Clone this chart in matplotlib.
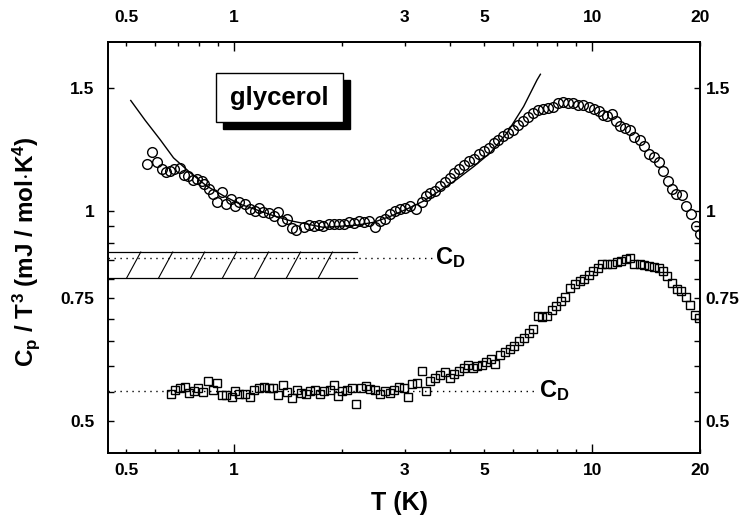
import numpy as np
import matplotlib
matplotlib.use("Agg")
import matplotlib.pyplot as plt
from matplotlib.ticker import FixedLocator, FuncFormatter, NullFormatter
from matplotlib.patches import Rectangle

plt.rcParams["font.family"] = ["Liberation Sans", "DejaVu Sans"]
plt.rcParams["font.weight"] = "bold"
plt.rcParams["mathtext.fontset"] = "custom"
plt.rcParams["mathtext.rm"] = "Liberation Sans:bold"
plt.rcParams["mathtext.bf"] = "Liberation Sans:bold"
plt.rcParams["mathtext.it"] = "Liberation Sans:bold"

# glycerol, circles (upper curve)
circ_T = [0.571, 0.590, 0.611, 0.629, 0.647, 0.664, 0.681, 0.705, 0.726, 0.746,
          0.768, 0.791, 0.814, 0.827, 0.849, 0.873, 0.896, 0.925, 0.951, 0.981,
          1.008, 1.036, 1.075, 1.110, 1.146, 1.178, 1.209, 1.249, 1.290, 1.323,
          1.361, 1.406, 1.452, 1.493, 1.564, 1.615, 1.668, 1.722, 1.778, 1.837,
          1.897, 1.959, 2.023, 2.089, 2.158, 2.228, 2.301, 2.376, 2.480, 2.561,
          2.646, 2.732, 2.821, 2.913, 3.008, 3.107, 3.229, 3.350, 3.443, 3.533,
          3.649, 3.768, 3.891, 4.000, 4.104, 4.239, 4.377, 4.521, 4.668, 4.820,
          4.977, 5.140, 5.309, 5.446, 5.639, 5.809, 6.014, 6.194, 6.413, 6.607,
          6.839, 7.045, 7.295, 7.512, 7.779, 8.013, 8.295, 8.545, 8.847, 9.113,
          9.434, 9.779, 10.10, 10.43, 10.73, 11.01, 11.37, 11.69, 11.99, 12.38,
          12.79, 13.12, 13.58, 13.99, 14.39, 14.86, 15.34, 15.79, 16.26, 16.73,
          17.19, 17.84, 18.34, 18.90, 19.55, 19.97]
circ_C = [1.166, 1.215, 1.174, 1.147, 1.138, 1.140, 1.147, 1.153, 1.125, 1.122,
          1.107, 1.112, 1.103, 1.091, 1.076, 1.056, 1.030, 1.064, 1.022, 1.041,
          1.017, 1.030, 1.022, 1.006, 0.998, 1.011, 0.995, 0.993, 0.984, 0.995,
          0.968, 0.973, 0.944, 0.940, 0.947, 0.954, 0.952, 0.954, 0.952, 0.957,
          0.959, 0.957, 0.959, 0.965, 0.960, 0.968, 0.965, 0.968, 0.947, 0.968,
          0.973, 0.989, 1.000, 1.006, 1.011, 1.017, 1.006, 1.028, 1.051, 1.060,
          1.068, 1.085, 1.100, 1.116, 1.134, 1.147, 1.162, 1.178, 1.185, 1.208,
          1.218, 1.231, 1.252, 1.265, 1.279, 1.293, 1.307, 1.329, 1.344, 1.363,
          1.381, 1.393, 1.399, 1.404, 1.408, 1.427, 1.430, 1.427, 1.427, 1.419,
          1.419, 1.408, 1.399, 1.388, 1.373, 1.366, 1.377, 1.344, 1.322, 1.315,
          1.304, 1.276, 1.262, 1.240, 1.205, 1.195, 1.174, 1.140, 1.103, 1.076,
          1.056, 1.053, 1.015, 0.989, 0.952, 0.927]

# squares (lower curve)
sq_T = [0.667, 0.685, 0.708, 0.731, 0.751, 0.771, 0.796, 0.822, 0.844, 0.873,
        0.899, 0.925, 0.951, 0.987, 1.008, 1.036, 1.075, 1.110, 1.139, 1.178,
        1.215, 1.249, 1.285, 1.323, 1.370, 1.406, 1.452, 1.499, 1.541, 1.591,
        1.633, 1.686, 1.741, 1.787, 1.849, 1.897, 1.946, 2.002, 2.068, 2.136,
        2.195, 2.262, 2.336, 2.402, 2.480, 2.561, 2.646, 2.720, 2.791, 2.881,
        2.976, 3.053, 3.141, 3.243, 3.350, 3.443, 3.533, 3.649, 3.768, 3.891,
        4.000, 4.104, 4.239, 4.377, 4.492, 4.650, 4.771, 4.927, 5.065, 5.220,
        5.366, 5.541, 5.723, 5.883, 6.063, 6.233, 6.438, 6.650, 6.839, 7.045,
        7.248, 7.483, 7.729, 7.945, 8.188, 8.419, 8.693, 8.949, 9.243, 9.513,
        9.779, 10.08, 10.36, 10.66, 11.01, 11.37, 11.74, 12.07, 12.46, 12.79,
        13.12, 13.58, 13.99, 14.39, 14.86, 15.34, 15.79, 16.23, 16.73, 17.22,
        17.76, 18.28, 18.81, 19.39, 19.85]
sq_C = [0.547, 0.554, 0.557, 0.560, 0.549, 0.552, 0.557, 0.551, 0.571, 0.554,
        0.567, 0.545, 0.545, 0.541, 0.552, 0.547, 0.546, 0.541, 0.553, 0.557,
        0.560, 0.558, 0.557, 0.545, 0.563, 0.551, 0.539, 0.554, 0.549, 0.547,
        0.552, 0.553, 0.546, 0.552, 0.554, 0.563, 0.543, 0.552, 0.554, 0.557,
        0.529, 0.558, 0.562, 0.556, 0.554, 0.547, 0.552, 0.548, 0.554, 0.560,
        0.557, 0.542, 0.565, 0.567, 0.589, 0.552, 0.570, 0.576, 0.582, 0.587,
        0.577, 0.583, 0.589, 0.596, 0.601, 0.595, 0.600, 0.601, 0.608, 0.613,
        0.604, 0.621, 0.627, 0.634, 0.641, 0.650, 0.657, 0.668, 0.678, 0.706,
        0.705, 0.707, 0.720, 0.731, 0.743, 0.753, 0.776, 0.786, 0.793, 0.799,
        0.810, 0.821, 0.829, 0.838, 0.839, 0.839, 0.844, 0.848, 0.853, 0.855,
        0.838, 0.838, 0.837, 0.833, 0.831, 0.828, 0.819, 0.807, 0.789, 0.774,
        0.768, 0.753, 0.734, 0.710, 0.703]

# fit curve through the circles
fit_T = [0.515, 0.565, 0.622, 0.678, 0.755, 0.840, 0.935, 1.041, 1.159, 1.290,
         1.436, 1.778, 2.205, 2.454, 2.732, 3.041, 3.385, 3.768, 4.196, 4.668,
         5.197, 5.786, 6.438, 7.017, 7.17]
fit_C = [1.439, 1.348, 1.265, 1.191, 1.134, 1.085, 1.051, 1.022, 1.003, 0.984,
         0.968, 0.947, 0.954, 0.963, 0.982, 1.006, 1.033, 1.070, 1.110, 1.157,
         1.211, 1.293, 1.411, 1.540, 1.569]

# Debye levels
cd_upper = 0.856
cd_upper_end = 3.58
band_lo, band_hi, band_end = 0.802, 0.873, 2.21
cd_lower = 0.552
cd_lower_end = 7.03

x_lim = (0.445, 20)
y_lim = (0.45, 1.745)
x_major = [1, 10]
x_minor = [0.5, 0.6, 0.7, 0.8, 0.9, 2, 3, 4, 5, 6, 7, 8, 9, 20]
x_labels = [0.5, 1, 3, 5, 10, 20]
y_major = [0.5, 0.75, 1, 1.5]
y_minor = [0.55, 0.6, 0.65, 0.7, 0.8, 0.85, 0.9, 0.95]


def fmt_x(v, pos):
    return f"{v:g}" if any(abs(v - l) < 1e-6 for l in x_labels) else ""


def setup_x(axis):
    axis.set_major_locator(FixedLocator(x_major))
    axis.set_minor_locator(FixedLocator(x_minor))
    axis.set_major_formatter(FuncFormatter(fmt_x))
    axis.set_minor_formatter(FuncFormatter(fmt_x))


def setup_y(axis):
    axis.set_major_locator(FixedLocator(y_major))
    axis.set_minor_locator(FixedLocator(y_minor))
    axis.set_major_formatter(FuncFormatter(lambda v, p: f"{v:g}"))
    axis.set_minor_formatter(NullFormatter())


fig = plt.figure(figsize=(7.46, 5.24), dpi=100)
fig.subplots_adjust(left=0.1448, right=0.9383, top=0.9198, bottom=0.1355)
ax = fig.add_subplot(111)

ax.plot(fit_T, fit_C, "-", color="black", lw=1.0, zorder=3)
ax.plot(circ_T, circ_C, "o", ms=7.0, mfc="none", mec="black", mew=1.0, zorder=4)
ax.plot(sq_T, sq_C, "s", ms=6.3, mfc="none", mec="black", mew=1.0, zorder=4)

dots = (0, (1, 3.3))
ax.plot([x_lim[0], cd_upper_end], [cd_upper, cd_upper], ls=dots, color="black", lw=1.0)
ax.plot([x_lim[0], cd_lower_end], [cd_lower, cd_lower], ls=dots, color="black", lw=1.0)
ax.plot([x_lim[0], band_end], [band_hi, band_hi], "-", color="black", lw=0.9)
ax.plot([x_lim[0], band_end], [band_lo, band_lo], "-", color="black", lw=0.9)
for i in range(7):
    x0 = 0.502 * 1.228 ** i
    ax.plot([x0, x0 * 1.094], [band_lo, band_hi], "-", color="black", lw=0.8)

ax.text(cd_upper_end * 1.02, cd_upper, r"C$_\mathbf{D}$", fontsize=17,
        fontweight="bold", va="center", ha="left")
ax.text(cd_lower_end * 1.01, cd_lower, r"C$_\mathbf{D}$", fontsize=17,
        fontweight="bold", va="center", ha="left")

# glycerol label box with drop shadow
ax.add_patch(Rectangle((0.1942, 0.7876), 0.2151, 0.1207, transform=ax.transAxes,
                       facecolor="black", edgecolor="black", zorder=5))
ax.add_patch(Rectangle((0.1824, 0.8046), 0.2151, 0.1207, transform=ax.transAxes,
                       facecolor="white", edgecolor="black", lw=1.0, zorder=6))
ax.text(0.1824 + 0.2151 / 2, 0.8046 + 0.1207 / 2, "glycerol", transform=ax.transAxes,
        fontsize=18.5, fontweight="bold", ha="center", va="center", zorder=7)

ax.set_xscale("log")
ax.set_yscale("log")
ax.set_xlim(x_lim)
ax.set_ylim(y_lim)
setup_x(ax.xaxis)
setup_y(ax.yaxis)
ax.tick_params(axis="x", which="major", direction="in", length=6.5, width=1.0,
               labelsize=12.5, pad=7)
ax.tick_params(axis="x", which="minor", direction="in", length=3.2, width=1.0,
               labelsize=12.5, pad=7)
ax.tick_params(axis="y", which="both", direction="in", length=4.2, width=1.0,
               labelsize=12.5, pad=10)

top = ax.twiny()
top.set_xscale("log")
top.set_xlim(x_lim)
setup_x(top.xaxis)
top.tick_params(axis="x", which="major", direction="in", length=6.5, width=1.0,
                labelsize=12.5, pad=12)
top.tick_params(axis="x", which="minor", direction="in", length=3.2, width=1.0,
                labelsize=12.5, pad=12)

right = ax.twinx()
right.set_yscale("log")
right.set_ylim(y_lim)
setup_y(right.yaxis)
right.tick_params(axis="y", which="both", direction="in", length=4.2, width=1.0,
                  labelsize=12.5, pad=4)

for a in (ax, top, right):
    for s in a.spines.values():
        s.set_linewidth(1.1)

ax.set_xlabel("T (K)", fontsize=18, fontweight="bold")
ax.xaxis.set_label_coords(0.493, -0.092)
ax.set_ylabel(r"C$_\mathbf{p}$ / T$^\mathbf{3}$ (mJ / mol$\cdot$K$^\mathbf{4}$)",
              fontsize=17.5, fontweight="bold")
ax.yaxis.set_label_coords(-0.112, 0.49)

fig.savefig("out.png", dpi=100)
